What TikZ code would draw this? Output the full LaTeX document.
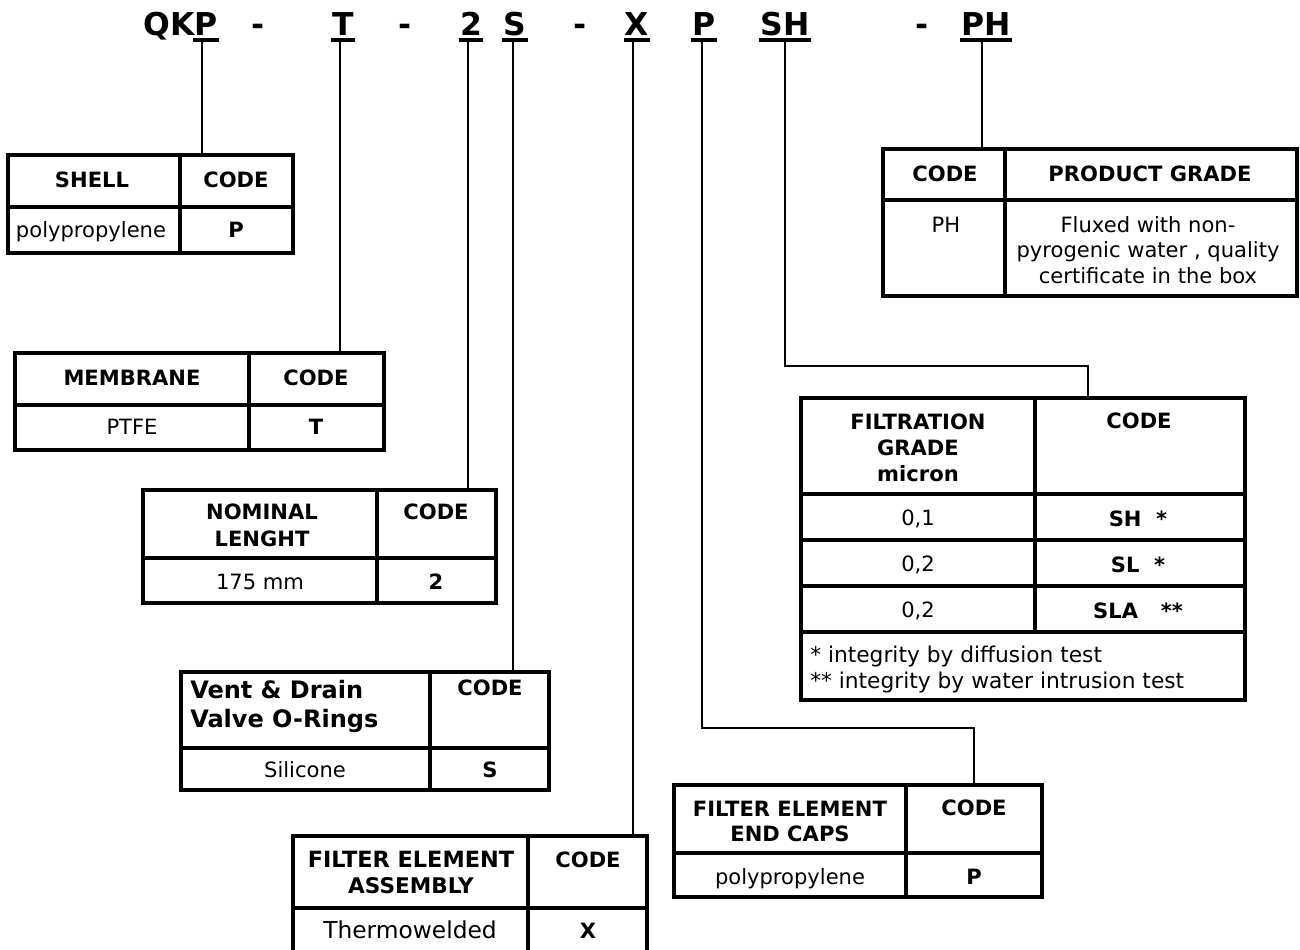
\documentclass[tikz,border=0pt]{standalone}
\usepackage{fontspec}
\setmainfont{DejaVu Sans}
\usetikzlibrary{calc,fit}
\tikzset{
  cell/.style={draw, line width=2.6pt, inner sep=0pt, outer sep=0pt},
  conn/.style={line width=1.3pt},
  uline/.style={line width=2.6pt},
  rt/.style={anchor=base, inner sep=0pt, font=\fontsize{15.8}{19}\selectfont},
  bt/.style={anchor=base, inner sep=0pt, font=\fontsize{15.8}{19}\selectfont\bfseries},
  vt/.style={anchor=base west, inner sep=0pt, font=\fontsize{18}{22}\selectfont\bfseries},
  ft/.style={anchor=base west, inner sep=0pt, font=\fontsize{16.3}{19}\selectfont},
  ttl/.style={anchor=base, inner sep=0pt, font=\fontsize{23.6}{28}\selectfont\bfseries}
}
\begin{document}
\begin{tikzpicture}[x=0.75pt,y=-0.75pt]
\useasboundingbox[fill=white] (0,0) rectangle (1300,950);

% ---------- title ----------
\node[ttl, anchor=base east] (tQK) at (195,35) {QK};
\node[ttl] (tP1) at (206,35) {P};
\node[ttl] (d1) at (258,35) {-};
\node[ttl] (tT) at (343,35) {T};
\node[ttl] (d2) at (405,35) {-};
\node[ttl] (t2) at (471,35) {2};
\node[ttl] (tS) at (515,35) {S};
\node[ttl] (d3) at (580,35) {-};
\node[ttl] (tX) at (637,35) {X};
\node[ttl] (tP2) at (704,35) {P};
\node[ttl] (tSH) at (785,35) {SH};
\node[ttl] (d4) at (922,35) {-};
\node[ttl] (tPH) at (986,35) {PH};
\foreach \n in {tP1,tT,t2,tS,tX,tP2,tSH,tPH}
  \draw[uline] ($(\n.base west)+(-1,5)$) -- ($(\n.base east)+(1,5)$);

% ---------- SHELL ----------
\node[cell, fit={(8,155)(180,207)}] (shellA) {};
\node[cell, fit={(180,155)(293,207)}] (shellB) {};
\node[cell, fit={(8,207)(180,253)}] (shellC) {};
\node[cell, fit={(180,207)(293,253)}] (shellD) {};
\node[bt] (shellAt) at (92,187) {SHELL};
\node[bt] (shellBt) at (236,187) {CODE};
\node[rt] (shellCt) at (91,237) {polypropylene};
\node[bt] (shellDt) at (236,237) {P};

% ---------- MEMBRANE ----------
\node[cell, fit={(15,353)(249,405)}] (memA) {};
\node[cell, fit={(249,353)(384,405)}] (memB) {};
\node[cell, fit={(15,405)(249,450)}] (memC) {};
\node[cell, fit={(249,405)(384,450)}] (memD) {};
\node[bt] (memAt) at (132,385) {MEMBRANE};
\node[bt] (memBt) at (316,385) {CODE};
\node[rt] (memCt) at (132,434) {PTFE};
\node[bt] (memDt) at (316,434) {T};

% ---------- NOMINAL LENGHT ----------
\node[cell, fit={(143,490)(377,558)}] (nomA) {};
\node[cell, fit={(377,490)(496,558)}] (nomB) {};
\node[cell, fit={(143,558)(377,603)}] (nomC) {};
\node[cell, fit={(377,558)(496,603)}] (nomD) {};
\node[bt] (nomAt1) at (262,519) {NOMINAL};
\node[bt] (nomAt2) at (262,546) {LENGHT};
\node[bt] (nomBt) at (436,519) {CODE};
\node[rt] (nomCt) at (260,589) {175 mm};
\node[bt] (nomDt) at (436,589) {2};

% ---------- VENT ----------
\node[cell, fit={(181,672)(430,748)}] (ventA) {};
\node[cell, fit={(430,672)(549,748)}] (ventB) {};
\node[cell, fit={(181,748)(430,790)}] (ventC) {};
\node[cell, fit={(430,748)(549,790)}] (ventD) {};
\node[vt] (ventAt1) at (190,698) {Vent \& Drain};
\node[vt] (ventAt2) at (190,727) {Valve O-Rings};
\node[bt] (ventBt) at (490,695) {CODE};
\node[rt] (ventCt) at (305,777) {Silicone};
\node[bt] (ventDt) at (490,777) {S};

% ---------- ASSEMBLY ----------
\node[cell, fit={(293,836)(528,908)}] (asmA) {};
\node[cell, fit={(528,836)(647,908)}] (asmB) {};
\node[cell, fit={(293,908)(528,968)}] (asmC) {};
\node[cell, fit={(528,908)(647,968)}] (asmD) {};
\node[bt, font=\fontsize{16.8}{19}\selectfont\bfseries] (asmAt1) at (411,867) {FILTER ELEMENT};
\node[bt, font=\fontsize{16.2}{19}\selectfont\bfseries] (asmAt2) at (411,893) {ASSEMBLY};
\node[bt] (asmBt) at (588,867) {CODE};
\node[rt, font=\fontsize{17.5}{20}\selectfont] (asmCt) at (410,938) {Thermowelded};
\node[bt] (asmDt) at (588,938) {X};

% ---------- END CAPS ----------
\node[cell, fit={(674,785)(906,853)}] (capA) {};
\node[cell, fit={(906,785)(1042,853)}] (capB) {};
\node[cell, fit={(674,853)(906,897)}] (capC) {};
\node[cell, fit={(906,853)(1042,897)}] (capD) {};
\node[bt] (capAt1) at (790,816) {FILTER ELEMENT};
\node[bt] (capAt2) at (790,841) {END CAPS};
\node[bt] (capBt) at (974,815) {CODE};
\node[rt] (capCt) at (790,884) {polypropylene};
\node[bt] (capDt) at (974,884) {P};

% ---------- FILTRATION ----------
\node[cell, fit={(801,398)(1035,494)}] (filA) {};
\node[cell, fit={(1035,398)(1245,494)}] (filB) {};
\node[cell, fit={(801,494)(1035,540)}] (filC1) {};
\node[cell, fit={(1035,494)(1245,540)}] (filD1) {};
\node[cell, fit={(801,540)(1035,586)}] (filC2) {};
\node[cell, fit={(1035,540)(1245,586)}] (filD2) {};
\node[cell, fit={(801,586)(1035,632)}] (filC3) {};
\node[cell, fit={(1035,586)(1245,632)}] (filD3) {};
\node[cell, fit={(801,632)(1245,700)}] (filN) {};
\node[bt] (filAt1) at (918,429) {FILTRATION};
\node[bt] (filAt2) at (918,455) {GRADE};
\node[bt] (filAt3) at (918,481) {micron};
\node[bt] (filBt) at (1139,428) {CODE};
\node[rt] (filC1t) at (918,525) {0,1};
\node[bt] (filD1t) at (1138,526) {SH\hspace{11pt}*};
\node[rt] (filC2t) at (918,571) {0,2};
\node[bt] (filD2t) at (1138,572) {SL\hspace{11pt}*};
\node[rt] (filC3t) at (918,617) {0,2};
\node[bt] (filD3t) at (1138,618) {SLA\hspace{17pt}**};
\node[ft] (filN1) at (810,662) {* integrity by diffusion test};
\node[ft] (filN2) at (810,688) {** integrity by water intrusion test};

% ---------- PRODUCT GRADE ----------
\node[cell, fit={(883,149)(1005,200)}] (prodA) {};
\node[cell, fit={(1005,149)(1297,200)}] (prodB) {};
\node[cell, fit={(883,200)(1005,296)}] (prodC) {};
\node[cell, fit={(1005,200)(1297,296)}] (prodD) {};
\node[bt] (prodAt) at (945,181) {CODE};
\node[bt] (prodBt) at (1150,181) {PRODUCT GRADE};
\node[rt] (prodCt) at (946,232) {PH};
\node[rt] (prodDt1) at (1148,232) {Fluxed with non-};
\node[rt] (prodDt2) at (1148,257) {pyrogenic water , quality};
\node[rt] (prodDt3) at (1148,283) {certificate in the box};

% ---------- connectors ----------
\coordinate (cP1) at (202,41);
\coordinate (cT) at (340,41);
\coordinate (c2) at (468,41);
\coordinate (cS) at (513,41);
\coordinate (cX) at (633,41);
\coordinate (cP2) at (702,41);
\coordinate (cSH) at (785,41);
\coordinate (cPH) at (982,41);
\coordinate (kP2) at (974,728);
\coordinate (kSH) at (1088,366);
\draw[conn] (cP1) -- (cP1 |- shellA.north);
\draw[conn] (cT) -- (cT |- memB.north);
\draw[conn] (c2) -- (c2 |- nomB.north);
\draw[conn] (cS) -- (cS |- ventB.north);
\draw[conn] (cX) -- (cX |- asmB.north);
\draw[conn] (cP2) |- (kP2) -- (kP2 |- capB.north);
\draw[conn] (cSH) |- (kSH) -- (kSH |- filB.north);
\draw[conn] (cPH) -- (cPH |- prodA.north);
\end{tikzpicture}
\end{document}
